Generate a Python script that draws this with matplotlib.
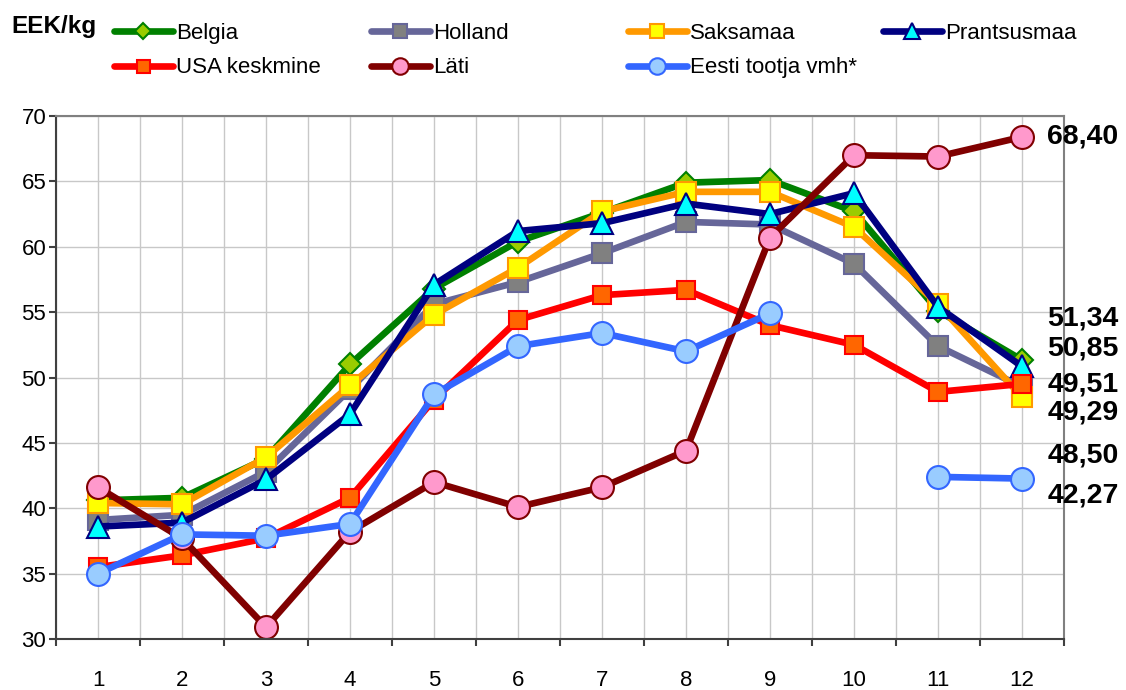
import matplotlib
matplotlib.use("Agg")
import matplotlib.pyplot as plt
import numpy as np

plt.rcParams['font.family'] = ['Liberation Sans', 'DejaVu Sans']

months = np.arange(1, 13)
month_labels = [str(m) for m in months]

belgia = [40.6, 40.8, 43.8, 51.0, 56.8, 60.4, 62.6, 64.9, 65.1, 62.7, 55.1, 51.34]
holland = [39.1, 39.5, 42.8, 49.1, 55.6, 57.3, 59.5, 61.9, 61.7, 58.7, 52.4, 49.29]
saksamaa = [40.4, 40.3, 43.9, 49.4, 54.8, 58.4, 62.7, 64.2, 64.2, 61.5, 55.6, 48.50]
prantsusmaa = [38.6, 38.9, 42.2, 47.2, 57.1, 61.2, 61.8, 63.3, 62.5, 64.1, 55.4, 50.85]
usa = [35.5, 36.4, 37.7, 40.8, 48.3, 54.4, 56.3, 56.7, 54.0, 52.5, 48.9, 49.51]
lati = [41.6, 37.7, 30.9, 38.2, 42.0, 40.1, 41.6, 44.4, 60.7, 67.0, 66.9, 68.40]
eesti = [35.0, 38.0, 37.9, 38.8, 48.7, 52.4, 53.4, 52.0, 54.9, np.nan, 42.4, 42.27]

series_names = ['Belgia', 'Holland', 'Saksamaa', 'Prantsusmaa',
                'USA keskmine', 'Läti', 'Eesti tootja vmh*']
series_values = [belgia, holland, saksamaa, prantsusmaa, usa, lati, eesti]

# style per series: line colour, marker, face colour, size
styles = [
    ('#008000', 'D', '#99CC00', 11),
    ('#666699', 's', '#808080', 14),
    ('#FF9900', 's', '#FFFF00', 14),
    ('#000080', '^', '#00FFFF', 16),
    ('#FF0000', 's', '#FF6600', 13),
    ('#800000', 'o', '#FF99CC', 16.5),
    ('#3366FF', 'o', '#99CCFF', 16.5),
]

fig = plt.figure(figsize=(11.26, 6.9), dpi=100)
ax = fig.add_axes([56/1126, 51/690, 1008/1126, 523/690])

handles = []
for name, vals, (lc, mk, fc, ms) in zip(series_names, series_values, styles):
    h, = ax.plot(months, vals, color=lc, lw=4.8, marker=mk, ms=ms,
                 markerfacecolor=fc, markeredgecolor=lc, markeredgewidth=1.5,
                 label=name, solid_capstyle='round')
    handles.append(h)

ax.set_xlim(0.5, 12.5)
ax.set_ylim(30, 70)
ax.set_yticks(np.arange(30, 71, 5))
ax.set_xticks(np.arange(0.5, 13, 1))
ax.set_xticklabels([])
ax.set_xticks(months, minor=True)
ax.set_xticklabels(month_labels, minor=True)
ax.tick_params(axis='x', which='major', length=5, width=1.5, color='#404040')
ax.tick_params(axis='x', which='minor', length=0, pad=22, labelsize=16)
ax.tick_params(axis='y', length=5, width=1.5, color='#404040', pad=2, labelsize=16)
ax.grid(True, which='both', axis='x', color='#c8c8c8', lw=1)
ax.grid(True, which='major', axis='y', color='#c8c8c8', lw=1)
ax.set_axisbelow(True)
for s in ['left', 'bottom']:
    ax.spines[s].set_color('#404040')
    ax.spines[s].set_linewidth(1.5)
for s in ['top', 'right']:
    ax.spines[s].set_color('#808080')
    ax.spines[s].set_linewidth(1.5)

# end value labels on the right
label_y = {5: 68.4, 0: 54.55, 3: 52.18, 4: 49.43, 1: 47.29, 2: 44.07, 6: 41.01}
for i, yy in label_y.items():
    v = series_values[i][-1]
    ax.text(12.30, yy, f"{v:.2f}".replace('.', ','), fontsize=20.5, fontweight='bold',
            va='center', ha='left', clip_on=False)

fig.text(11/1126, 1 - 26/690, 'EEK/kg', fontsize=17.5, fontweight='bold', va='center')

# legend laid out in row-major order, one legend per column
columns = [[0, 4], [1, 5], [2, 6], [3]]
col_x = [114, 371, 628, 883]
for cols, x in zip(columns, col_x):
    leg = fig.legend([handles[i] for i in cols], [series_names[i] for i in cols],
                     loc='upper left', bbox_to_anchor=(x/1126, 1 - 23/690),
                     frameon=False, fontsize=16, handlelength=2.65,
                     handletextpad=0.15, labelspacing=0.6, borderpad=0,
                     borderaxespad=0, markerscale=0.72)

fig.savefig('out.png', dpi=100)
